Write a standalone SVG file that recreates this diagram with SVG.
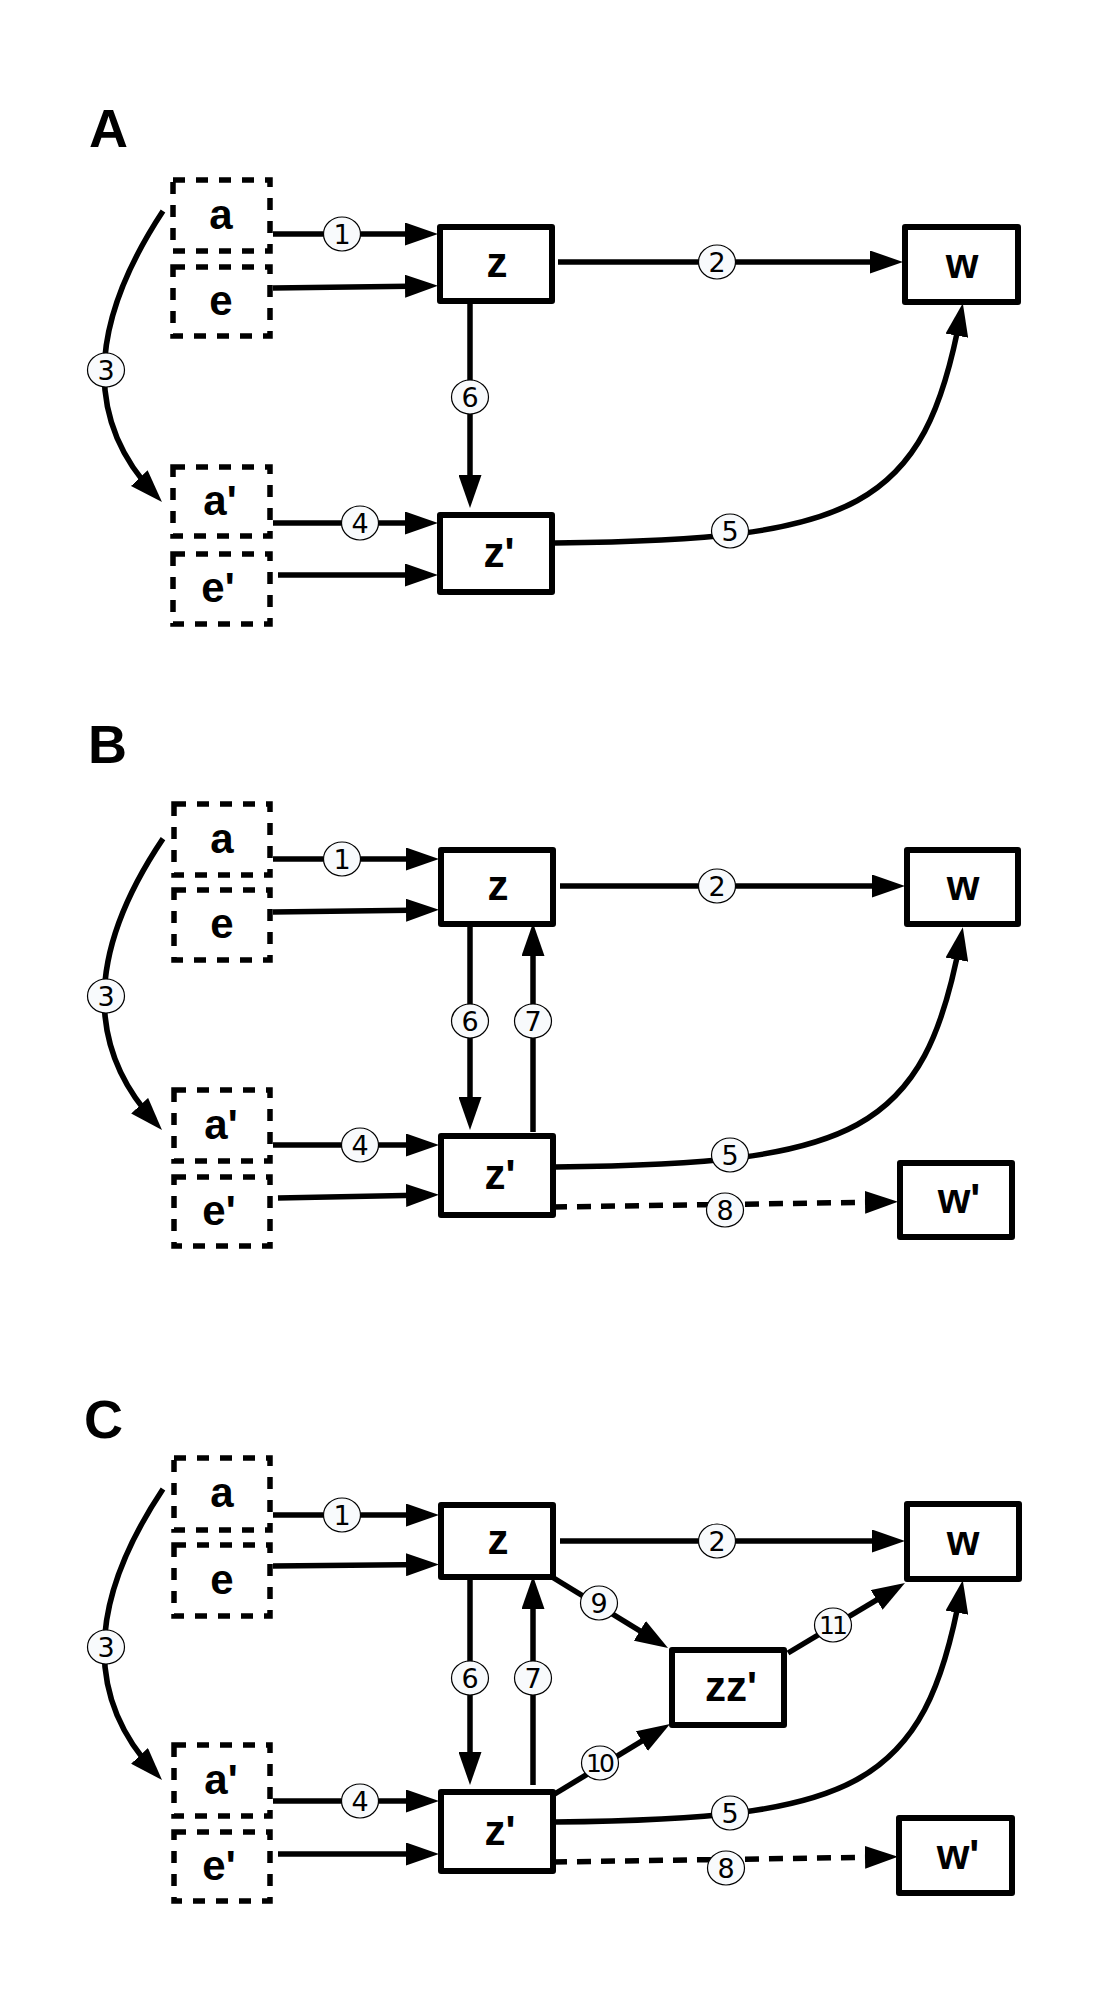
<svg xmlns="http://www.w3.org/2000/svg" width="1111" height="2012" viewBox="0 0 1111 2012">
<style>
.bg{fill:#ffffff}
.nd{fill:#ffffff;stroke:#000;stroke-width:6;stroke-linejoin:round}
.dn{fill:#ffffff;stroke:#000;stroke-width:5.5;stroke-dasharray:12 11}
.nt{font-family:"Liberation Sans",Arial,sans-serif;font-weight:bold;font-size:42px;text-anchor:middle;fill:#000}
.pl{font-family:"Liberation Sans",Arial,sans-serif;font-weight:bold;font-size:54px;fill:#000}
.ln{fill:none;stroke:#000;stroke-width:5.5;marker-end:url(#ah)}
.dl{fill:none;stroke:#000;stroke-width:5.5;stroke-dasharray:14 10;marker-end:url(#ah)}
.lc{fill:#f8fafc;stroke:#000;stroke-width:1.2}
.lt{font-family:"DejaVu Sans",sans-serif;font-size:27px;text-anchor:middle;fill:#000}
.ls{font-family:"DejaVu Sans",sans-serif;font-size:25px;text-anchor:middle;fill:#000;letter-spacing:-3px}
</style>
<defs>
<marker id="ah" markerUnits="userSpaceOnUse" markerWidth="33" markerHeight="23" refX="23" refY="11.5" orient="auto" viewBox="0 0 33 23">
<path d="M0,0 L33,11.5 L0,23 z" fill="#000"/>
</marker>
</defs>
<rect class="bg" x="0" y="0" width="1111" height="2012"/>

<text class="pl" x="89" y="147">A</text>
<text class="pl" x="88" y="763">B</text>
<text class="pl" x="84" y="1438">C</text>

<g id="connectors">
<!-- Panel A -->
<path class="ln" d="M273,234 L428,234"/>
<path class="ln" d="M273,288 L428,286"/>
<path class="ln" d="M558,262 L893,262"/>
<path class="ln" d="M163,211 Q49.5,383.5 155.1,494.8"/>
<path class="ln" d="M470,300 L470,498"/>
<path class="ln" d="M273,523 L428,523"/>
<path class="ln" d="M278,575 L428,575"/>
<path class="ln" d="M555,543 C855,540 925,510 961,313"/>
<!-- Panel B -->
<path class="ln" d="M273,859 L429,859"/>
<path class="ln" d="M273,912 L429,910"/>
<path class="ln" d="M560,886 L895,886"/>
<path class="ln" d="M163,838.6 Q49.5,1007.6 155.2,1122.6"/>
<path class="ln" d="M470,924 L470,1120"/>
<path class="ln" d="M533,1132 L533,933"/>
<path class="ln" d="M273,1145 L429,1145"/>
<path class="ln" d="M278,1198 L429,1195"/>
<path class="ln" d="M555,1167 C855,1164 925,1134 961,937"/>
<path class="dl" d="M553,1207 L888,1202"/>
<!-- Panel C -->
<path class="ln" d="M273,1515 L429,1515"/>
<path class="ln" d="M273,1566 L429,1564.5"/>
<path class="ln" d="M560,1541 L895,1541"/>
<path class="ln" d="M163,1489 Q49.5,1659.5 155.2,1772.7"/>
<path class="ln" d="M470,1577 L470,1775"/>
<path class="ln" d="M533,1785 L533,1586"/>
<path class="ln" d="M273,1801 L429,1801"/>
<path class="ln" d="M278,1854 L429,1854"/>
<path class="ln" d="M552,1577 L659.5,1642.8"/>
<path class="ln" d="M553,1795 L661.5,1729.2"/>
<path class="ln" d="M788,1653 L896.4,1588.1"/>
<path class="ln" d="M555,1822 C855,1819 925,1789 961,1590"/>
<path class="dl" d="M553,1862 L888,1857"/>

<!-- labels A -->
<ellipse class="lc" cx="342" cy="234" rx="18.5" ry="17"/><text class="lt" x="342" y="244">1</text>
<ellipse class="lc" cx="717" cy="262" rx="18.5" ry="17"/><text class="lt" x="717" y="272">2</text>
<ellipse class="lc" cx="106" cy="370" rx="18.5" ry="17"/><text class="lt" x="106" y="380">3</text>
<ellipse class="lc" cx="470" cy="397" rx="18.5" ry="17"/><text class="lt" x="470" y="407">6</text>
<ellipse class="lc" cx="360" cy="523" rx="18.5" ry="17"/><text class="lt" x="360" y="533">4</text>
<ellipse class="lc" cx="730" cy="531" rx="18.5" ry="17"/><text class="lt" x="730" y="541">5</text>
<!-- labels B -->
<ellipse class="lc" cx="342" cy="859" rx="18.5" ry="17"/><text class="lt" x="342" y="869">1</text>
<ellipse class="lc" cx="717" cy="886" rx="18.5" ry="17"/><text class="lt" x="717" y="896">2</text>
<ellipse class="lc" cx="106" cy="996" rx="18.5" ry="17"/><text class="lt" x="106" y="1006">3</text>
<ellipse class="lc" cx="470" cy="1021" rx="18.5" ry="17"/><text class="lt" x="470" y="1031">6</text>
<ellipse class="lc" cx="533" cy="1021" rx="18.5" ry="17"/><text class="lt" x="533" y="1031">7</text>
<ellipse class="lc" cx="360" cy="1145" rx="18.5" ry="17"/><text class="lt" x="360" y="1155">4</text>
<ellipse class="lc" cx="730" cy="1155" rx="18.5" ry="17"/><text class="lt" x="730" y="1165">5</text>
<ellipse class="lc" cx="725" cy="1210" rx="18.5" ry="17"/><text class="lt" x="725" y="1220">8</text>
<!-- labels C -->
<ellipse class="lc" cx="342" cy="1515" rx="18.5" ry="17"/><text class="lt" x="342" y="1525">1</text>
<ellipse class="lc" cx="717" cy="1541" rx="18.5" ry="17"/><text class="lt" x="717" y="1551">2</text>
<ellipse class="lc" cx="106" cy="1647" rx="18.5" ry="17"/><text class="lt" x="106" y="1657">3</text>
<ellipse class="lc" cx="470" cy="1678" rx="18.5" ry="17"/><text class="lt" x="470" y="1688">6</text>
<ellipse class="lc" cx="533" cy="1678" rx="18.5" ry="17"/><text class="lt" x="533" y="1688">7</text>
<ellipse class="lc" cx="360" cy="1801" rx="18.5" ry="17"/><text class="lt" x="360" y="1811">4</text>
<ellipse class="lc" cx="599" cy="1603" rx="18.5" ry="17"/><text class="lt" x="599" y="1613">9</text>
<ellipse class="lc" cx="600" cy="1763" rx="18.5" ry="17"/><text class="ls" x="599" y="1772">10</text>
<ellipse class="lc" cx="833" cy="1625" rx="18.5" ry="17"/><text class="ls" x="832" y="1634">11</text>
<ellipse class="lc" cx="730" cy="1813" rx="18.5" ry="17"/><text class="lt" x="730" y="1823">5</text>
<ellipse class="lc" cx="726" cy="1868" rx="18.5" ry="17"/><text class="lt" x="726" y="1878">8</text>
</g>

<!-- Panel A nodes -->
<g id="A-a"><rect class="dn" x="173" y="180" width="97" height="71"/><text class="nt" x="221" y="229">a</text></g>
<g id="A-e"><rect class="dn" x="173" y="267" width="97" height="69"/><text class="nt" x="221" y="315">e</text></g>
<g id="A-a2"><rect class="dn" x="173" y="467" width="97" height="69"/><text class="nt" x="220" y="515">a'</text></g>
<g id="A-e2"><rect class="dn" x="173" y="554" width="97" height="70"/><text class="nt" x="218" y="602">e'</text></g>
<g id="A-z"><rect class="nd" x="440" y="227" width="112" height="74"/><text class="nt" x="497" y="277">z</text></g>
<g id="A-z2"><rect class="nd" x="440" y="515" width="112" height="77"/><text class="nt" x="499" y="567">z'</text></g>
<g id="A-w"><rect class="nd" x="905" y="227" width="113" height="75"/><text class="nt" x="962" y="278">w</text></g>

<!-- Panel B nodes -->
<g id="B-a"><rect class="dn" x="174" y="804" width="96" height="71"/><text class="nt" x="222" y="853">a</text></g>
<g id="B-e"><rect class="dn" x="174" y="890" width="96" height="70"/><text class="nt" x="222" y="938">e</text></g>
<g id="B-a2"><rect class="dn" x="174" y="1090" width="96" height="71"/><text class="nt" x="221" y="1139">a'</text></g>
<g id="B-e2"><rect class="dn" x="174" y="1177" width="96" height="69"/><text class="nt" x="219" y="1225">e'</text></g>
<g id="B-z"><rect class="nd" x="441" y="850" width="112" height="74"/><text class="nt" x="498" y="900">z</text></g>
<g id="B-z2"><rect class="nd" x="441" y="1136" width="112" height="79"/><text class="nt" x="500" y="1189">z'</text></g>
<g id="B-w"><rect class="nd" x="907" y="850" width="111" height="74"/><text class="nt" x="963" y="900">w</text></g>
<g id="B-w2"><rect class="nd" x="900" y="1163" width="112" height="74"/><text class="nt" x="959" y="1213">w'</text></g>

<!-- Panel C nodes -->
<g id="C-a"><rect class="dn" x="174" y="1458" width="96" height="72"/><text class="nt" x="222" y="1507">a</text></g>
<g id="C-e"><rect class="dn" x="174" y="1545" width="96" height="71"/><text class="nt" x="222" y="1594">e</text></g>
<g id="C-a2"><rect class="dn" x="174" y="1745" width="96" height="71"/><text class="nt" x="221" y="1794">a'</text></g>
<g id="C-e2"><rect class="dn" x="174" y="1832" width="96" height="69"/><text class="nt" x="219" y="1880">e'</text></g>
<g id="C-z"><rect class="nd" x="441" y="1505" width="112" height="72"/><text class="nt" x="498" y="1554">z</text></g>
<g id="C-z2"><rect class="nd" x="441" y="1792" width="112" height="79"/><text class="nt" x="500" y="1845">z'</text></g>
<g id="C-zz2"><rect class="nd" x="672" y="1650" width="112" height="75"/><text class="nt" x="731" y="1701">zz'</text></g>
<g id="C-w"><rect class="nd" x="907" y="1504" width="112" height="75"/><text class="nt" x="963" y="1555">w</text></g>
<g id="C-w2"><rect class="nd" x="899" y="1818" width="113" height="75"/><text class="nt" x="958" y="1869">w'</text></g>
</svg>
